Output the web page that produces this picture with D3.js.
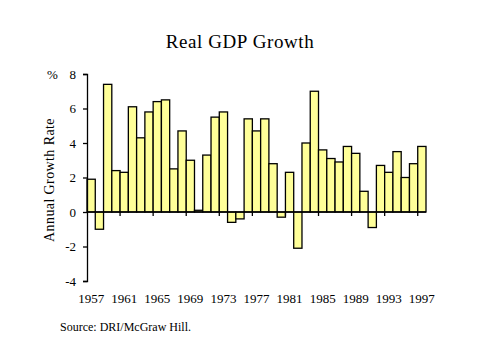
<!DOCTYPE html>
<html>
<head>
<meta charset="utf-8">
<script src="https://cdn.jsdelivr.net/npm/d3@7"></script>
<style>
  body { margin: 0; background: #fff; }
  text { font-family: "Liberation Serif", "Times New Roman", serif; fill: #000; }
</style>
</head>
<body>
<svg id="chart" width="479" height="359"></svg>
<script>
// Data
const years = d3.range(1957, 1998)
const growth = [1.9, -1.0, 7.4, 2.4, 2.3, 6.1, 4.3, 5.8, 6.4, 6.5,
                2.5, 4.7, 3.0, 0.1, 3.3, 5.5, 5.8, -0.6, -0.4, 5.4,
                4.7, 5.4, 2.8, -0.3, 2.3, -2.1, 4.0, 7.0, 3.6, 3.1,
                2.9, 3.8, 3.4, 1.2, -0.9, 2.7, 2.3, 3.5, 2.0, 2.8, 3.8]
const yTicks = [-4, -2, 0, 2, 4, 6, 8]
const yearLabels = years.filter((d, i) => i % 4 === 0)

const svg = d3.select("#chart")

// Scales
const x = d3.scaleBand().domain(years).range([87, 426]).padding(0)
const y = d3.scaleLinear().domain([-4, 8]).range([281, 74])

// Title
svg.append("text")
    .attr("x", 240).attr("y", 48)
    .attr("text-anchor", "middle")
    .style("font-size", "19px")
    .style("letter-spacing", "0.6px")
    .text("Real GDP Growth")

// Bars
svg.append("g")
    .selectAll("rect")
    .data(growth)
    .join("rect")
    .attr("x", (d, i) => x(years[i]))
    .attr("width", x.bandwidth())
    .attr("y", d => y(Math.max(0, d)))
    .attr("height", d => Math.abs(y(d) - y(0)))
    .style("fill", "#ffff99")
    .style("stroke", "#000")
    .style("stroke-width", 1.3)

// Y axis
const yAxis = svg.append("g")
    .attr("transform", "translate(87,0)")
    .call(d3.axisLeft(y).tickValues(yTicks).tickSize(4).tickPadding(7).tickFormat(d => String(d)))
yAxis.attr("font-family", null).attr("font-size", null)
yAxis.select(".domain").style("stroke-width", 1.3)
yAxis.selectAll("text").style("font-size", "13px")
yAxis.selectAll("line").style("stroke-width", 1.3)

svg.append("text")
    .attr("x", 47).attr("y", 79)
    .style("font-size", "13px")
    .text("%")

// Zero line with category tick marks every 4 years
svg.append("line")
    .attr("x1", 87).attr("x2", 426)
    .attr("y1", y(0)).attr("y2", y(0))
    .style("stroke", "#000").style("stroke-width", 1.3)

svg.append("g")
    .selectAll("line")
    .data(yearLabels.slice(1))
    .join("line")
    .attr("x1", d => x(d)).attr("x2", d => x(d))
    .attr("y1", y(0)).attr("y2", y(0) + 4)
    .style("stroke", "#000").style("stroke-width", 1.3)

// Year labels
svg.append("g")
    .selectAll("text")
    .data(yearLabels)
    .join("text")
    .attr("x", d => x(d) + x.bandwidth() / 2)
    .attr("y", 303)
    .attr("text-anchor", "middle")
    .style("font-size", "13px")
    .text(d => d)

// Axis title
svg.append("text")
    .attr("transform", "translate(54,180) rotate(-90)")
    .attr("text-anchor", "middle")
    .style("font-size", "14px")
    .style("letter-spacing", "0.4px")
    .text("Annual Growth Rate")

// Source
svg.append("text")
    .attr("x", 60).attr("y", 331)
    .style("font-size", "12px")
    .text("Source:  DRI/McGraw Hill.")
</script>
</body>
</html>
